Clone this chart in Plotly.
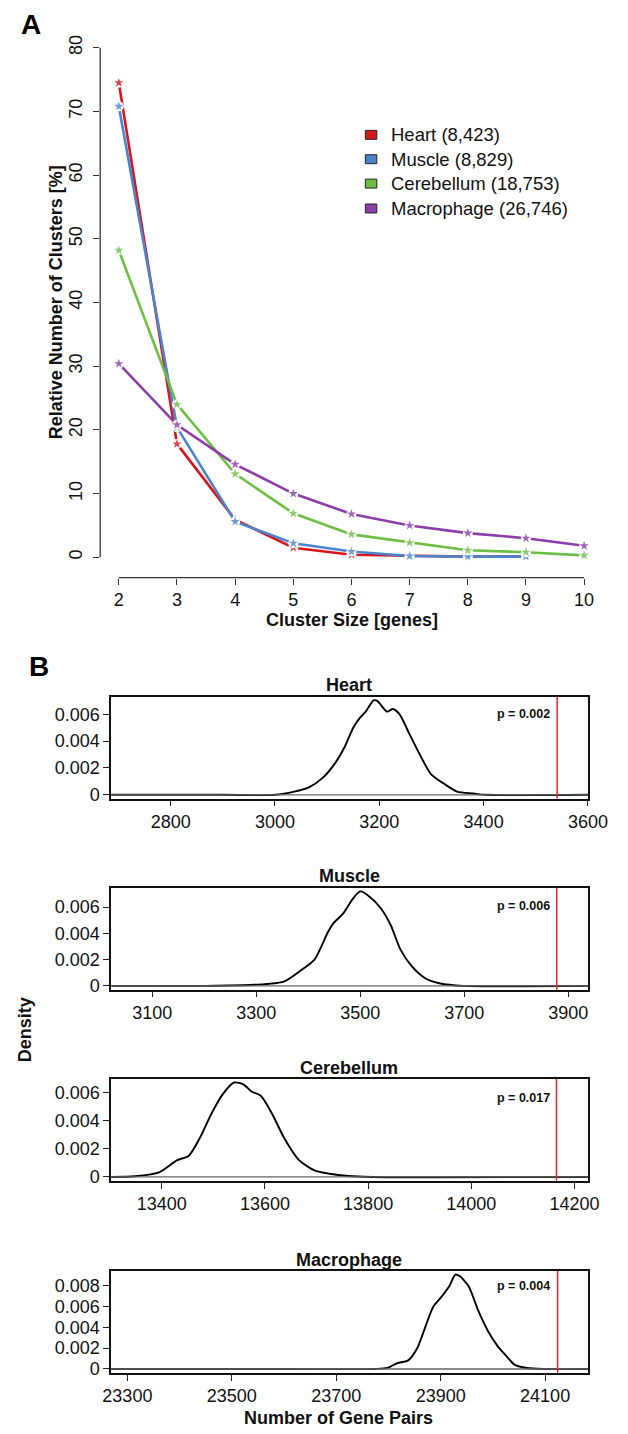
import plotly.graph_objects as go

W, H = 628, 1434
FONT = "Liberation Sans, Arial, Helvetica, sans-serif"

# ---- Panel A: cluster size distribution -------------------------------
cluster_sizes = [2, 3, 4, 5, 6, 7, 8, 9, 10]
series_names = ["Heart (8,423)", "Muscle (8,829)", "Cerebellum (18,753)", "Macrophage (26,746)"]
series_colors = ["#D8141C", "#4A84CC", "#6DBE45", "#8C3DAA"]
heart_pct = [74.5, 17.8, 5.9, 1.5, 0.4, 0.2, 0.1, 0.1]
muscle_pct = [70.8, 20.4, 5.6, 2.2, 0.9, 0.2, 0.1, 0.1]
cerebellum_pct = [48.2, 24.0, 13.1, 6.9, 3.6, 2.3, 1.1, 0.8, 0.3]
macrophage_pct = [30.4, 20.8, 14.6, 10.0, 6.8, 5.0, 3.8, 3.0, 1.8]
pct_series = [heart_pct, muscle_pct, cerebellum_pct, macrophage_pct]
y_ticks_a = [0, 10, 20, 30, 40, 50, 60, 70, 80]

# ---- Panel B: null distributions of gene-pair counts --------------------
tissues = ["Heart", "Muscle", "Cerebellum", "Macrophage"]
observed_pairs = [3541, 3878, 14165, 24124]
p_labels = ["p = 0.002", "p = 0.006", "p = 0.017", "p = 0.004"]

heart_x = [2686, 2900, 3000, 3037, 3064, 3092, 3116, 3134, 3150, 3162, 3174, 3189, 3196,
           3215, 3226, 3239, 3257, 3279, 3299, 3325, 3349, 3380, 3404, 3600]
heart_d = [0, 0, 0, 0.00024, 0.00054, 0.00128, 0.0024, 0.0036, 0.0050, 0.0057, 0.0062,
           0.00704, 0.0070, 0.0062, 0.0064, 0.0060, 0.0046, 0.0029, 0.00155, 0.0008,
           0.00024, 0.0001, 0, 0]
muscle_x = [3021, 3200, 3295, 3353, 3383, 3412, 3438, 3449, 3467, 3485, 3500, 3518, 3540,
            3559, 3577, 3599, 3625, 3654, 3698, 3938]
muscle_d = [0, 0, 0.00008, 0.00033, 0.0011, 0.0020, 0.0041, 0.0048, 0.0055, 0.0066, 0.0072,
            0.0068, 0.0059, 0.0046, 0.0028, 0.0015, 0.00058, 0.00018, 0, 0]
cerebellum_x = [13302, 13348, 13396, 13430, 13452, 13474, 13496, 13518, 13540, 13559, 13574,
                13592, 13614, 13637, 13666, 13696, 13725, 13762, 13806, 14226]
cerebellum_d = [0, 0.00005, 0.00035, 0.0012, 0.0015, 0.0028, 0.0045, 0.0059, 0.00675, 0.0066,
                0.0061, 0.0058, 0.0045, 0.0028, 0.0012, 0.00047, 0.00023, 0.00007, 0, 0]
macrophage_x = [23269, 23600, 23773, 23798, 23817, 23837, 23855, 23871, 23886, 23901, 23917,
                23928, 23937, 23954, 23972, 23990, 24009, 24023, 24042, 24065, 24096, 24182]
macrophage_d = [0, 0, 0, 0.0001, 0.00057, 0.0008, 0.0020, 0.0041, 0.0060, 0.0069, 0.0080,
                0.00907, 0.0089, 0.0079, 0.0056, 0.0037, 0.0022, 0.0014, 0.0004, 0.0001, 0, 0]
density_x = [heart_x, muscle_x, cerebellum_x, macrophage_x]
density_y = [heart_d, muscle_d, cerebellum_d, macrophage_d]

x_ticks_b = [[2800, 3000, 3200, 3400, 3600],
             [3100, 3300, 3500, 3700, 3900],
             [13400, 13600, 13800, 14000, 14200],
             [23300, 23500, 23700, 23900, 24100]]
y_ticks_b = [[0, 0.002, 0.004, 0.006],
             [0, 0.002, 0.004, 0.006],
             [0, 0.002, 0.004, 0.006],
             [0, 0.002, 0.004, 0.006, 0.008]]


def px_x(v):
    return v / W


def px_y(v):
    return 1 - v / H


fig = go.Figure()

# Panel A traces: line, white halo (gap around points), star marker
for name, color, vals in zip(series_names, series_colors, pct_series):
    xs = cluster_sizes[:len(vals)]
    fig.add_trace(go.Scatter(x=xs, y=vals, mode="lines", line=dict(color=color, width=2.6),
                             xaxis="x", yaxis="y", showlegend=False, hoverinfo="skip"))
    fig.add_trace(go.Scatter(x=xs, y=vals, mode="markers",
                             marker=dict(symbol="circle", size=10, color="white"),
                             xaxis="x", yaxis="y", showlegend=False, hoverinfo="skip"))
    fig.add_trace(go.Scatter(x=xs, y=vals, mode="markers", name=name,
                             marker=dict(symbol="star", size=7, color=color, opacity=0.8),
                             xaxis="x", yaxis="y", showlegend=False))

# Panel B density curves
for i, (xs, ds) in enumerate(zip(density_x, density_y)):
    n = i + 2
    fig.add_trace(go.Scatter(x=xs, y=ds, mode="lines",
                             line=dict(color="black", width=1.9, shape="spline", smoothing=0.7),
                             xaxis=f"x{n}", yaxis=f"y{n}", showlegend=False, name=tissues[i]))

tick_font = dict(family=FONT, size=18, color="#111")
title_font = dict(family=FONT, size=18, color="#111", weight="bold")

layout = dict(
    width=W, height=H, margin=dict(l=0, r=0, t=0, b=0),
    paper_bgcolor="white", plot_bgcolor="white", showlegend=False,
)

# Panel A axes (R-style detached axis lines drawn as shapes)
layout["xaxis"] = dict(domain=[px_x(96.5), px_x(622.5)], range=[1.68, 10.32], anchor="y",
                       tickvals=cluster_sizes, ticks="outside", ticklen=6, tickwidth=1.3,
                       tickcolor="#333", showline=False, showgrid=False, zeroline=False,
                       tickfont=tick_font)
layout["yaxis"] = dict(domain=[px_y(580.5), px_y(27.5)], range=[-3.2, 83.2], anchor="x",
                       tickvals=y_ticks_a, ticks="outside", ticklen=6, tickwidth=1.3,
                       tickcolor="#333", tickangle=-90, showline=False, showgrid=False,
                       zeroline=False, tickfont=tick_font, ticklabelstandoff=4)

box_tops = [700, 892, 1084, 1277]
box_h = 102.5
x_ranges = [[2686, 3600], [3021, 3938], [13302, 14226], [23269, 24182]]
for i in range(4):
    n = i + 2
    top = box_tops[i]
    pk = max(density_y[i])
    layout[f"xaxis{n}"] = dict(domain=[px_x(108), px_x(607)], range=x_ranges[i], anchor=f"y{n}",
                               tickvals=x_ticks_b[i], ticktext=[str(v) for v in x_ticks_b[i]],
                               ticks="outside", ticklen=6, tickwidth=1.3, tickcolor="#222",
                               showline=True, mirror=True, linecolor="#111", linewidth=1.6,
                               showgrid=False, zeroline=False, tickfont=tick_font)
    layout[f"yaxis{n}"] = dict(domain=[px_y(top + box_h), px_y(top)],
                               range=[-0.04 * pk, 1.04 * pk], anchor=f"x{n}",
                               tickvals=y_ticks_b[i],
                               ticktext=["0" if v == 0 else f"{v:.3f}" for v in y_ticks_b[i]],
                               ticks="outside", ticklen=6, tickwidth=1.3, tickcolor="#222",
                               showline=True, mirror=True, linecolor="#111", linewidth=1.6,
                               showgrid=False, zeroline=False, tickfont=tick_font)

shapes = []
# detached axis lines for panel A
shapes.append(dict(type="line", xref="x", yref="paper", x0=cluster_sizes[0], x1=cluster_sizes[-1],
                   y0=px_y(580.5), y1=px_y(580.5), line=dict(color="#333", width=1.3)))
shapes.append(dict(type="line", xref="paper", yref="paper", x0=px_x(96.5), x1=px_x(96.5),
                   y0=px_y(560), y1=px_y(48), line=dict(color="#333", width=1.3),
                   layer="below"))

for i in range(4):
    n = i + 2
    # zero line of the density plot
    shapes.append(dict(type="line", xref=f"x{n} domain", yref=f"y{n}", x0=0, x1=1, y0=0, y1=0,
                       line=dict(color="#666", width=1.3)))
    # observed number of gene pairs
    shapes.append(dict(type="line", xref=f"x{n}", yref=f"y{n} domain", x0=observed_pairs[i],
                       x1=observed_pairs[i], y0=0, y1=1, line=dict(color="#E3262C", width=1.5)))

# legend for panel A
legend_rows = [135.5, 160, 184.5, 209.5]
for name, color, yy in zip(series_names, series_colors, legend_rows):
    shapes.append(dict(type="rect", xref="paper", yref="paper",
                       x0=px_x(374), x1=px_x(386), y0=px_y(yy + 4.5), y1=px_y(yy - 4.5),
                       fillcolor=color, line=dict(color="#222", width=1)))

annotations = []
for name, yy in zip(series_names, legend_rows):
    annotations.append(dict(text=name, xref="paper", yref="paper", x=px_x(399), y=px_y(yy),
                            xanchor="left", yanchor="middle", showarrow=False,
                            font=dict(family=FONT, size=18.5, color="#111")))

# panel letters
annotations.append(dict(text="A", xref="paper", yref="paper", x=px_x(24), y=px_y(25),
                        xanchor="center", yanchor="middle", showarrow=False,
                        font=dict(family=FONT, size=28, color="black", weight="bold")))
annotations.append(dict(text="B", xref="paper", yref="paper", x=px_x(32), y=px_y(670),
                        xanchor="center", yanchor="middle", showarrow=False,
                        font=dict(family=FONT, size=28, color="black", weight="bold")))

# axis titles
annotations.append(dict(text="Relative Number of Clusters [%]", xref="paper", yref="paper",
                        x=px_x(50), y=px_y(304), textangle=-90, xanchor="center",
                        yanchor="middle", showarrow=False, font=title_font))
annotations.append(dict(text="Cluster Size [genes]", xref="paper", yref="paper",
                        x=px_x(360), y=px_y(623), xanchor="center", yanchor="middle",
                        showarrow=False, font=title_font))
annotations.append(dict(text="Density", xref="paper", yref="paper",
                        x=px_x(18), y=px_y(1035), textangle=-90, xanchor="center",
                        yanchor="middle", showarrow=False, font=title_font))
annotations.append(dict(text="Number of Gene Pairs", xref="paper", yref="paper",
                        x=px_x(346), y=px_y(1425), xanchor="center", yanchor="middle",
                        showarrow=False, font=title_font))

# panel B titles and p-values
title_y = [688, 880, 1073, 1266]
p_y = [717, 910, 1103, 1292]
for i in range(4):
    annotations.append(dict(text=tissues[i], xref="paper", yref="paper", x=px_x(357),
                            y=px_y(title_y[i]), xanchor="center", yanchor="middle",
                            showarrow=False, font=title_font))
    annotations.append(dict(text=p_labels[i], xref="paper", yref="paper", x=px_x(540),
                            y=px_y(p_y[i]), xanchor="center", yanchor="middle",
                            showarrow=False,
                            font=dict(family=FONT, size=12.5, color="#111", weight="bold")))

layout["shapes"] = shapes
layout["annotations"] = annotations
fig.update_layout(**layout)

fig.write_html("out.html")
